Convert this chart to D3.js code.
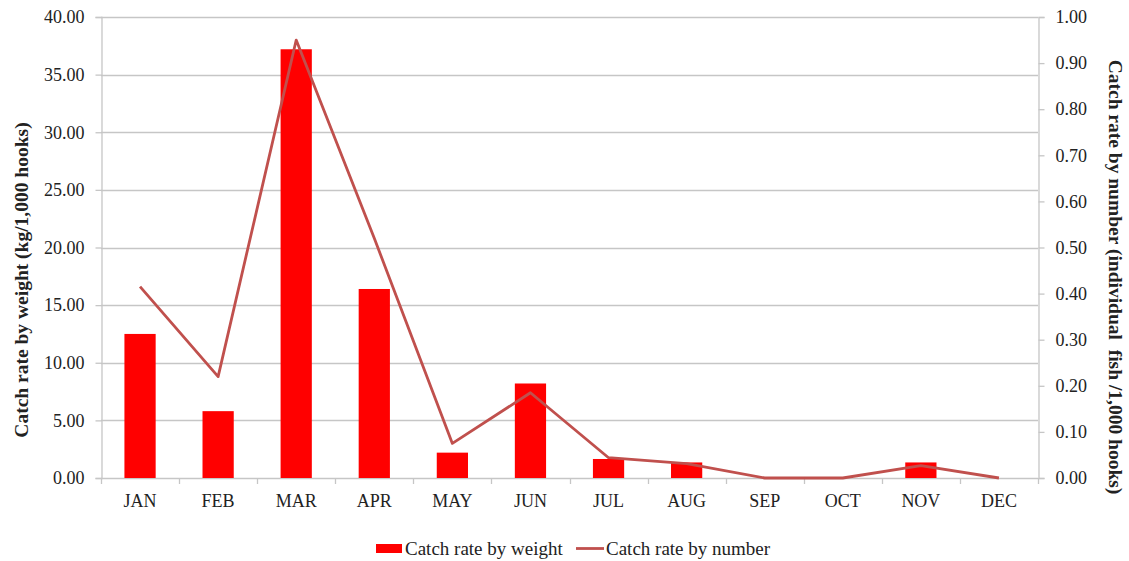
<!DOCTYPE html>
<html>
<head>
<meta charset="utf-8">
<script src="https://cdn.jsdelivr.net/npm/d3@7"></script>
<style>
  html, body { margin: 0; padding: 0; background: #fff; }
  svg { display: block; }
  text { font-family: "Liberation Serif", "Times New Roman", serif; fill: #222; }
</style>
</head>
<body>
<svg id="chart" width="1129" height="561"></svg>
<script>
const months = ["JAN","FEB","MAR","APR","MAY","JUN","JUL","AUG","SEP","OCT","NOV","DEC"];
const weightRate = [12.5, 5.8, 37.2, 16.4, 2.2, 8.2, 1.65, 1.35, 0, 0, 1.35, 0];
const numberRate = [0.415, 0.22, 0.95, 0.52, 0.075, 0.185, 0.044, 0.031, 0, 0, 0.027, 0];
const leftTicks = [0, 5, 10, 15, 20, 25, 30, 35, 40];
const rightTicks = [0, 0.1, 0.2, 0.3, 0.4, 0.5, 0.6, 0.7, 0.8, 0.9, 1.0];
const seriesNames = ["Catch rate by weight", "Catch rate by number"];

const svg = d3.select("#chart");
const m = {left: 101, right: 1038, top: 17, bottom: 478};
const gridColor = "#c6c6c6";
const barColor = "#ff0000";
const lineColor = "#c0504d";
const tickFont = "18px";
const titleFont = "19.5px";

const x = d3.scaleBand().domain(months).range([m.left, m.right]).paddingInner(0.6).paddingOuter(0.3);
const yL = d3.scaleLinear().domain([0, 40]).range([m.bottom, m.top]);
const yR = d3.scaleLinear().domain([0, 1]).range([m.bottom, m.top]);

// gridlines
svg.append("g").selectAll("line").data(leftTicks.slice(1)).join("line")
  .attr("x1", m.left).attr("x2", m.right)
  .attr("y1", d => Math.round(yL(d)) + 0.5).attr("y2", d => Math.round(yL(d)) + 0.5)
  .attr("stroke", gridColor).attr("stroke-width", 1.3);

// left axis
const gL = svg.append("g").attr("transform", `translate(${m.left + 0.5},0)`)
  .call(d3.axisLeft(yL).tickValues(leftTicks).tickFormat(d3.format(".2f")).tickSize(6).tickPadding(11));
gL.select(".domain").attr("stroke", gridColor).attr("stroke-width", 1.3);
gL.selectAll(".tick line").attr("stroke", gridColor).attr("stroke-width", 1.3);
gL.selectAll("text").style("font-size", tickFont).style("font-family", "Liberation Serif").attr("fill", "#222");

// right axis
const gR = svg.append("g").attr("transform", `translate(${m.right + 0.5},0)`)
  .call(d3.axisRight(yR).tickValues(rightTicks).tickFormat(d3.format(".2f")).tickSize(6).tickPadding(11));
gR.select(".domain").attr("stroke", gridColor).attr("stroke-width", 1.3);
gR.selectAll(".tick line").attr("stroke", gridColor).attr("stroke-width", 1.3);
gR.selectAll("text").style("font-size", tickFont).style("font-family", "Liberation Serif").attr("fill", "#222");

// bottom axis
const boundaries = d3.range(months.length + 1).map(i => m.left + i * (m.right - m.left) / months.length);
svg.append("line").attr("x1", m.left).attr("x2", m.right)
  .attr("y1", m.bottom + 0.5).attr("y2", m.bottom + 0.5)
  .attr("stroke", gridColor).attr("stroke-width", 1.3);
svg.append("g").selectAll("line").data(boundaries).join("line")
  .attr("x1", d => Math.round(d) + 0.5).attr("x2", d => Math.round(d) + 0.5)
  .attr("y1", m.bottom).attr("y2", m.bottom + 6)
  .attr("stroke", gridColor).attr("stroke-width", 1.3);
svg.append("g").selectAll("text").data(months).join("text")
  .attr("x", d => x(d) + x.bandwidth() / 2).attr("y", 507)
  .attr("text-anchor", "middle").style("font-size", tickFont).text(d => d);

// bars
svg.append("g").selectAll("rect").data(months).join("rect")
  .attr("x", d => x(d)).attr("width", x.bandwidth())
  .attr("y", (d, i) => yL(weightRate[i]))
  .attr("height", (d, i) => yL(0) - yL(weightRate[i]))
  .attr("fill", barColor);

// line
const line = d3.line().x((d, i) => x(months[i]) + x.bandwidth() / 2).y(d => yR(d));
svg.append("path").datum(numberRate).attr("d", line)
  .attr("fill", "none").attr("stroke", lineColor).attr("stroke-width", 2.8)
  .attr("stroke-linejoin", "round");

// axis titles
svg.append("text").attr("transform", `translate(28,280) rotate(-90)`)
  .attr("text-anchor", "middle").style("font-size", titleFont).style("font-weight", "bold")
  .text("Catch rate by weight (kg/1,000 hooks)");
svg.append("text").attr("transform", `translate(1109,277) rotate(90)`)
  .attr("text-anchor", "middle").style("font-size", titleFont).style("font-weight", "bold")
  .attr("xml:space", "preserve")
  .text("Catch rate by number (individual  fish /1,000 hooks)");

// legend
const lg = svg.append("g");
lg.append("rect").attr("x", 376).attr("y", 544).attr("width", 26).attr("height", 9).attr("fill", barColor);
lg.append("text").attr("x", 405).attr("y", 555).style("font-size", "19px").text(seriesNames[0]);
lg.append("line").attr("x1", 576).attr("x2", 604).attr("y1", 548.5).attr("y2", 548.5)
  .attr("stroke", lineColor).attr("stroke-width", 2.8);
lg.append("text").attr("x", 606).attr("y", 555).style("font-size", "19px").text(seriesNames[1]);
</script>
</body>
</html>
